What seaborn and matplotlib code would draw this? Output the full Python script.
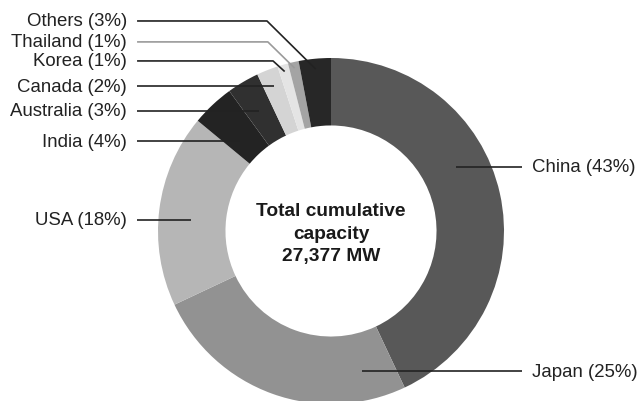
import numpy as np
import matplotlib
matplotlib.use("Agg")
import matplotlib.pyplot as plt
import seaborn as sns

# ============================================================
# Donut chart - cumulative capacity share by country
# ============================================================

countries = ["China", "Japan", "USA", "India", "Australia",
             "Canada", "Korea", "Thailand", "Others"]
shares = [43, 25, 18, 4, 3, 2, 1, 1, 3]
colors = ["#585858", "#929292", "#b6b6b6", "#232323", "#303030",
          "#d4d4d4", "#e4e4e4", "#a4a4a4", "#272727"]
center_text = "Total cumulative\ncapacity\n27,377 MW"

# label layout (data units, ring radius = 1)
label_side = ["right", "right", "left", "left", "left",
              "left", "left", "left", "left"]
label_y = [0.37, -0.81, 0.064, 0.52, 0.694, 0.838, 0.983, 1.093, 1.214]
line_r = [0.81, 0.83, 0.81, 0.74, 0.81, 0.90, 0.96, 0.965, 0.94]
elbow_x = [None, None, None, None, None, None, -0.335, -0.365, -0.37]
line_colors = ["#222222"] * 7 + ["#9a9a9a", "#222222"]


def main():
    sns.set_theme(style="white")
    plt.rcParams["font.family"] = ["Liberation Sans", "DejaVu Sans"]

    fig = plt.figure(figsize=(6.41, 4.02), dpi=100)
    ax = fig.add_axes([0, 0, 1, 1])
    R = 173.0

    wedges, _ = ax.pie(
        shares, colors=colors, startangle=90, counterclock=False,
        radius=1.0, wedgeprops=dict(width=0.39, linewidth=0),
    )
    ax.set_xlim(-331 / R, 310 / R)
    ax.set_ylim((232 - 402) / R, 232 / R)
    ax.set_aspect("equal")
    ax.axis("off")

    x_left_text, x_left_line = -1.179, -1.121
    x_right_text, x_right_line = 1.162, 1.104

    for i, w in enumerate(wedges):
        y = label_y[i]
        r = line_r[i]
        label = f"{countries[i]} ({shares[i]}%)"
        if elbow_x[i] is not None:
            mid = np.deg2rad((w.theta1 + w.theta2) / 2)
            ex, ey = r * np.cos(mid), r * np.sin(mid)
            xs = [x_left_line, elbow_x[i], ex]
            ys = [y, y, ey]
        else:
            sign = 1 if label_side[i] == "right" else -1
            inner_x = sign * np.sqrt(max(r ** 2 - y ** 2, 0))
            outer_x = x_right_line if sign > 0 else x_left_line
            xs = [inner_x, outer_x]
            ys = [y, y]
        ax.plot(xs, ys, color=line_colors[i], lw=1.2,
                solid_capstyle="butt", zorder=3)
        if label_side[i] == "right":
            ax.text(x_right_text, y, label, ha="left", va="center",
                    fontsize=13.4, color="#222222")
        else:
            ax.text(x_left_text, y, label, ha="right", va="center",
                    fontsize=13.4, color="#222222")

    ax.text(0, -0.012, center_text, ha="center", va="center",
            fontsize=13.8, fontweight="bold", color="#1a1a1a",
            linespacing=1.45)

    fig.savefig("out.png", dpi=100)


if __name__ == "__main__":
    main()
